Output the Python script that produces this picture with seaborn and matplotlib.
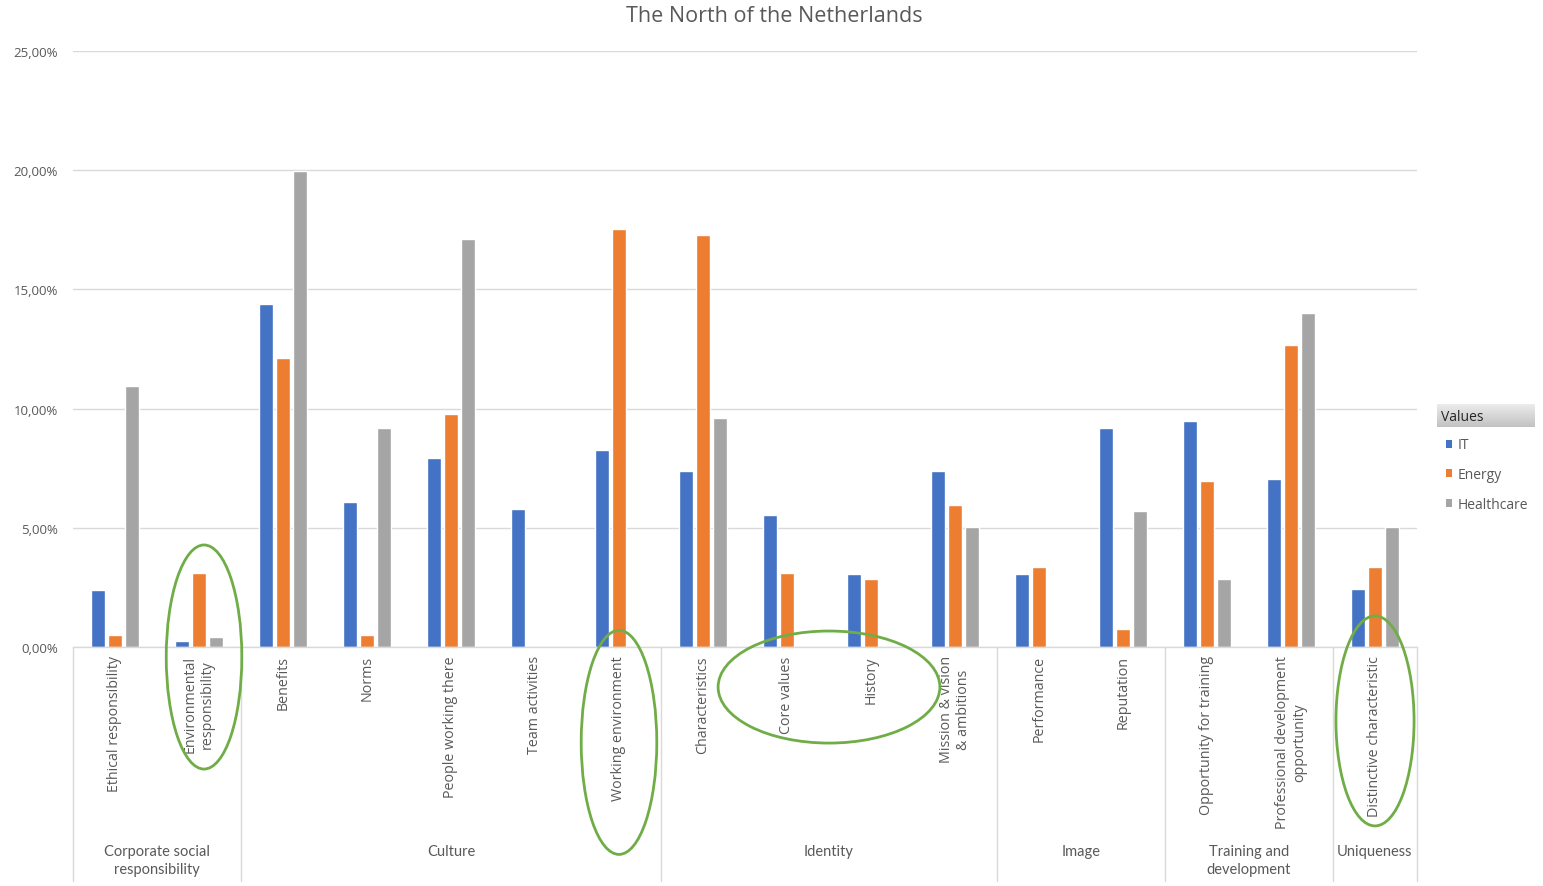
import numpy as np
import pandas as pd
import matplotlib
matplotlib.use("Agg")
import matplotlib.pyplot as plt
from matplotlib.patches import Ellipse, Patch
from matplotlib.ticker import FuncFormatter
import seaborn as sns

# ---- data -------------------------------------------------------------
categories = [
    "Ethical responsibility", "Environmental\nresponsibility",
    "Benefits", "Norms", "People working there", "Team activities",
    "Working environment",
    "Characteristics", "Core values", "History", "Mission & vision\n& ambitions",
    "Performance", "Reputation",
    "Opportunity for training", "Professional development\nopportunity",
    "Distinctive characteristic",
]
groups = ["Corporate social\nresponsibility", "Culture", "Identity", "Image",
          "Training and\ndevelopment", "Uniqueness"]
group_sizes = [2, 5, 4, 2, 2, 1]

it_vals = [2.39, 0.25, 14.39, 6.08, 7.93, 5.79, 8.26, 7.38, 5.54, 3.06,
           7.38, 3.06, 9.19, 9.48, 7.05, 2.43]
energy_vals = [0.50, 3.10, 12.12, 0.50, 9.77, 0.0, 17.53, 17.28, 3.10, 2.85,
               5.96, 3.36, 0.76, 6.96, 12.67, 3.36]
health_vals = [10.95, 0.42, 19.97, 9.19, 17.11, 0.0, 0.0, 9.61, 0.0, 0.0,
               5.03, 0.0, 5.70, 2.85, 14.01, 5.03]

series = ["IT", "Energy", "Healthcare"]
colors = ["#4472C4", "#ED7D31", "#A5A5A5"]
y_ticks = [0, 5, 10, 15, 20, 25]

df = pd.DataFrame({
    "category": categories * 3,
    "series": np.repeat(series, len(categories)),
    "value": it_vals + energy_vals + health_vals,
})

# ---- figure -----------------------------------------------------------
sns.set_theme(style="white")
plt.rcParams["font.family"] = ["Open Sans", "DejaVu Sans"]

fig = plt.figure(figsize=(15.43, 8.87), dpi=100)
ax = fig.add_axes([73 / 1543, 1 - 648 / 887, (1417 - 73) / 1543, (648 - 52) / 887])

sns.barplot(data=df, x="category", y="value", hue="series", order=categories,
            hue_order=series, palette=colors, width=0.61, gap=0.14,
            saturation=1, legend=False, ax=ax)

ax.set_ylim(0, 25)
ax.set_xlim(-0.5, len(categories) - 0.5)
ax.set_yticks(y_ticks)
ax.yaxis.set_major_formatter(FuncFormatter(lambda v, p: f"{v:.2f}%".replace(".", ",")))
ax.grid(axis="y", color="#D9D9D9", linewidth=1)
ax.set_axisbelow(True)
for side in ["left", "right", "top"]:
    ax.spines[side].set_visible(False)
ax.spines["bottom"].set_color("#D9D9D9")
ax.spines["bottom"].set_linewidth(1)
ax.set_xlabel("")
ax.set_ylabel("")

ax.tick_params(axis="y", length=0, pad=11, labelsize=9.5, labelcolor="#595959")
ax.tick_params(axis="x", length=0, pad=6, labelsize=10.3, labelcolor="#595959")
for lbl in ax.get_xticklabels():
    lbl.set_rotation(90)
    lbl.set_va("top")
    lbl.set_ha("center")
    lbl.set_multialignment("center")

# group separators and group labels below the category labels
trans = ax.get_xaxis_transform()
edges = np.concatenate([[0], np.cumsum(group_sizes)]) - 0.5
for e in edges:
    ax.plot([e, e], [0, -0.393], transform=trans, color="#D9D9D9",
            linewidth=1, clip_on=False)
for name, lo, hi in zip(groups, edges[:-1], edges[1:]):
    ax.text((lo + hi) / 2, -0.331, name, transform=trans, ha="center",
            va="top", fontsize=10.5, color="#595959", family=["Lato", "DejaVu Sans"],
            linespacing=1.38)

# title
fig.text(774 / 1543, 1 - 16 / 887, "The North of the Netherlands", ha="center",
         va="center", fontsize=15.5, color="#595959")

# legend header with grey gradient band
hax = fig.add_axes([1437 / 1543, 1 - 428 / 887, 98 / 1543, 23 / 887])
grad = np.linspace(0.93, 0.76, 50).reshape(-1, 1)
hax.imshow(grad, aspect="auto", cmap="gray", vmin=0, vmax=1,
           extent=[0, 1, 0, 1], origin="upper")
hax.set_axis_off()
hax.text(0.04, 0.45, "Values", ha="left", va="center", fontsize=10,
         color="#262626", transform=hax.transAxes)

handles = [Patch(facecolor=c, edgecolor="none", label=s) for s, c in zip(series, colors)]
leg = fig.legend(handles=handles, loc="upper left",
                 bbox_to_anchor=(1433 / 1543, 1 - 426 / 887), frameon=False,
                 fontsize=10, handlelength=0.5, handleheight=0.5,
                 handletextpad=0.35, labelspacing=1.05)
for t in leg.get_texts():
    t.set_color("#595959")

# highlight ellipses around selected categories
green = "#70AD47"
ell_specs = [
    (1.06, -0.42, 0.90, 9.40),
    (6.0, -4.00, 0.90, 9.40),
    (8.5, -1.68, 2.64, 4.70),
    (15.0, -3.10, 0.93, 8.81),
]
for cx, cy, w, h in ell_specs:
    ax.add_patch(Ellipse((cx, cy), w, h, fill=False, edgecolor=green,
                         linewidth=2, clip_on=False, zorder=5))

fig.savefig("out.png", dpi=100)
